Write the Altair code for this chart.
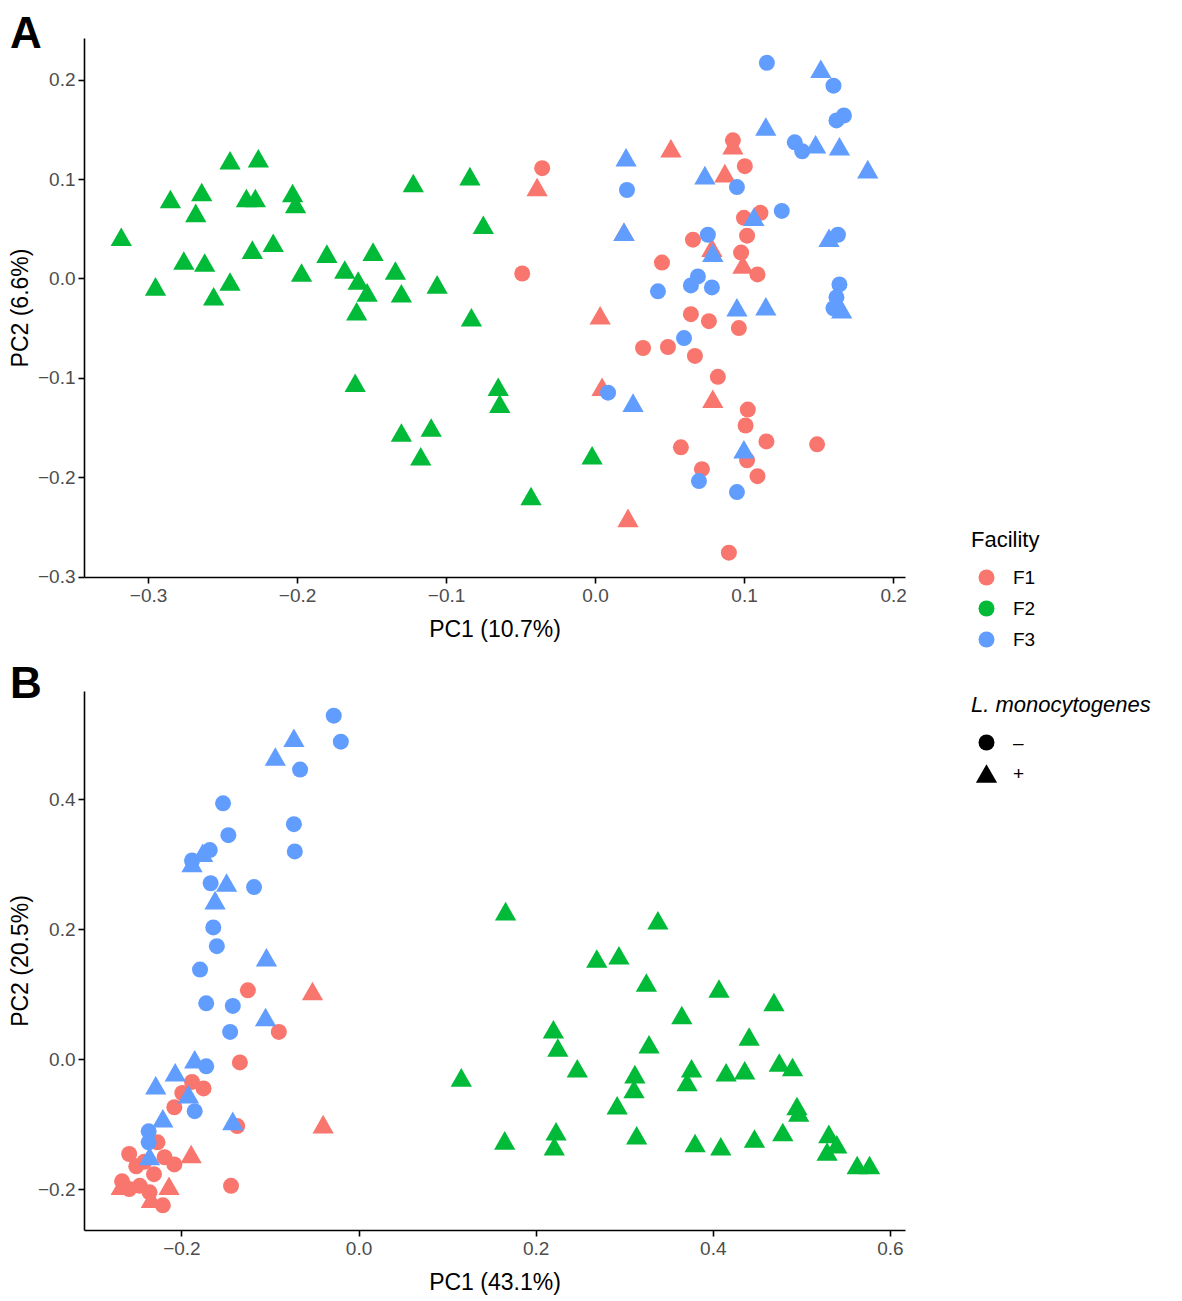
import altair as alt
import pandas as pd

# ---------------- Panel A (PC1 10.7%, PC2 6.6%) ----------------
A_F2_pos_x = [-0.318, -0.295, -0.285, -0.268, -0.264, -0.276, -0.262, -0.256, -0.245, -0.245,
              -0.226, -0.234, -0.228, -0.230, -0.216, -0.203, -0.201, -0.197, -0.180, -0.168,
              -0.149, -0.159, -0.153, -0.160, -0.134, -0.130, -0.106, -0.122, -0.084, -0.075,
              -0.083, -0.161, -0.130, -0.110, -0.117, -0.065, -0.064, -0.002, -0.043]
A_F2_pos_y = [0.042, -0.008, 0.080, 0.066, 0.087, 0.018, 0.016, -0.018, -0.003, 0.119,
              0.121, 0.081, 0.081, 0.029, 0.036, 0.086, 0.075, 0.006, 0.025, 0.009,
              0.027, -0.002, -0.014, -0.033, 0.008, -0.015, -0.006, 0.096, 0.103, 0.054,
              -0.039, -0.105, -0.155, -0.150, -0.179, -0.109, -0.126, -0.178, -0.219]

A_F1_neg_x = [0.0925, -0.0355, 0.1005, 0.0999, 0.111, 0.0657, 0.102, 0.098, 0.109, 0.0449,
              -0.0489, 0.0643, 0.0764, 0.0965, 0.0322, 0.0489, 0.067, 0.0824, 0.1025, 0.101,
              0.115, 0.149, 0.0576, 0.102, 0.0717, 0.109, 0.0898]
A_F1_neg_y = [0.139, 0.111, 0.113, 0.061, 0.066, 0.039, 0.043, 0.026, 0.004, 0.016,
              0.005, -0.036, -0.043, -0.050, -0.070, -0.069, -0.078, -0.099, -0.132, -0.148,
              -0.164, -0.167, -0.170, -0.183, -0.192, -0.199, -0.276]

A_F1_pos_x = [0.0925, 0.0509, -0.0389, 0.0871, 0.0194, 0.0784, 0.0992, 0.0034, 0.0047, 0.079, 0.0221]
A_F1_pos_y = [0.134, 0.131, 0.092, 0.106, 0.047, 0.031, 0.014, -0.037, -0.109, -0.121, -0.241]

A_F3_neg_x = [0.1153, 0.160, 0.167, 0.162, 0.134, 0.139, 0.0214, 0.0952, 0.1253, 0.163,
              0.0757, 0.069, 0.0643, 0.0784, 0.0422, 0.164, 0.162, 0.160, 0.0597, 0.0087,
              0.0697, 0.0952]
A_F3_neg_y = [0.217, 0.194, 0.164, 0.159, 0.137, 0.128, 0.089, 0.092, 0.068, 0.044,
              0.044, 0.002, -0.007, -0.009, -0.013, -0.006, -0.019, -0.030, -0.060, -0.115,
              -0.204, -0.215]

A_F3_pos_x = [0.1515, 0.1146, 0.148, 0.164, 0.183, 0.0208, 0.0737, 0.1066, 0.157, 0.0194,
              0.079, 0.1655, 0.0952, 0.1146, 0.0255, 0.0999]
A_F3_pos_y = [0.211, 0.153, 0.135, 0.133, 0.110, 0.122, 0.104, 0.062, 0.041, 0.047,
              0.026, -0.031, -0.029, -0.028, -0.125, -0.172]

# ---------------- Panel B (PC1 43.1%, PC2 20.5%) ----------------
B_F2_pos_x = [0.166, 0.338, 0.269, 0.294, 0.325, 0.407, 0.469, 0.365, 0.220, 0.225,
              0.328, 0.441, 0.116, 0.247, 0.312, 0.311, 0.376, 0.371, 0.415, 0.436,
              0.475, 0.490, 0.292, 0.495, 0.497, 0.165, 0.223, 0.221, 0.314, 0.380,
              0.409, 0.447, 0.479, 0.531, 0.540, 0.529, 0.563, 0.577]
B_F2_pos_y = [0.228, 0.214, 0.155, 0.160, 0.118, 0.109, 0.088, 0.068, 0.046, 0.018,
              0.023, 0.035, -0.028, -0.014, -0.023, -0.046, -0.014, -0.035, -0.020, -0.017,
              -0.005, -0.012, -0.071, -0.072, -0.082, -0.125, -0.111, -0.134, -0.117, -0.129,
              -0.134, -0.122, -0.112, -0.115, -0.131, -0.142, -0.163, -0.163]

B_F3_neg_x = [-0.028, -0.020, -0.066, -0.153, -0.073, -0.147, -0.072, -0.168, -0.188, -0.167,
              -0.118, -0.164, -0.160, -0.179, -0.172, -0.142, -0.145, -0.172, -0.185, -0.237,
              -0.237]
B_F3_neg_y = [0.529, 0.489, 0.446, 0.394, 0.362, 0.345, 0.320, 0.322, 0.306, 0.271,
              0.265, 0.203, 0.174, 0.138, 0.086, 0.082, 0.042, -0.011, -0.080, -0.111,
              -0.128]

B_F3_pos_x = [-0.073, -0.094, -0.176, -0.188, -0.149, -0.162, -0.104, -0.105, -0.185, -0.207,
              -0.229, -0.192, -0.221, -0.142, -0.236]
B_F3_pos_y = [0.495, 0.466, 0.318, 0.302, 0.272, 0.245, 0.157, 0.065, 0.000, -0.020,
              -0.040, -0.054, -0.091, -0.095, -0.149]

B_F1_neg_x = [-0.125, -0.090, -0.134, -0.188, -0.175, -0.199, -0.208, -0.137, -0.227, -0.259,
              -0.219, -0.208, -0.251, -0.231, -0.267, -0.247, -0.259, -0.236, -0.221, -0.144,
              -0.242]
B_F1_neg_y = [0.106, 0.042, -0.005, -0.035, -0.045, -0.052, -0.074, -0.103, -0.128, -0.146,
              -0.151, -0.162, -0.165, -0.177, -0.188, -0.195, -0.200, -0.205, -0.225, -0.195,
              -0.158]

B_F1_pos_x = [-0.052, -0.040, -0.189, -0.214, -0.234, -0.268]
B_F1_pos_y = [0.105, -0.100, -0.146, -0.195, -0.215, -0.195]

FACILITIES = ["F1", "F2", "F3"]
FAC_COLORS = ["#F8766D", "#00BA38", "#619CFF"]
LM_LEVELS = ["\u2013", "+"]
TRIANGLE = "M0,-1.16L1.33,1.16L-1.33,1.16Z"

FONT = "Liberation Sans"


def build(groups):
    rows = []
    for fac, lm, xs, ys in groups:
        for x, y in zip(xs, ys):
            rows.append({"PC1": x, "PC2": y, "Facility": fac, "Lm": lm})
    return pd.DataFrame(rows)


dfA = build([
    ("F2", "+", A_F2_pos_x, A_F2_pos_y),
    ("F1", "\u2013", A_F1_neg_x, A_F1_neg_y),
    ("F1", "+", A_F1_pos_x, A_F1_pos_y),
    ("F3", "\u2013", A_F3_neg_x, A_F3_neg_y),
    ("F3", "+", A_F3_pos_x, A_F3_pos_y),
])
dfB = build([
    ("F1", "\u2013", B_F1_neg_x, B_F1_neg_y),
    ("F1", "+", B_F1_pos_x, B_F1_pos_y),
    ("F2", "+", B_F2_pos_x, B_F2_pos_y),
    ("F3", "\u2013", B_F3_neg_x, B_F3_neg_y),
    ("F3", "+", B_F3_pos_x, B_F3_pos_y),
])

color_scale = alt.Scale(domain=FACILITIES, range=FAC_COLORS)
shape_scale = alt.Scale(domain=LM_LEVELS, range=["circle", TRIANGLE])

color_legend = alt.Legend(
    title="Facility", orient="none", legendX=887, legendY=492,
    symbolType="circle", symbolSize=256, symbolStrokeWidth=0,
    titleFontSize=22, titleFontWeight="normal", titleColor="black", titleFont=FONT,
    labelFontSize=19, labelColor="black", labelFont=FONT,
    titlePadding=16, rowPadding=11, labelOffset=17, symbolOffset=6, padding=0,
)
shape_legend = alt.Legend(
    title="L. monocytogenes", orient="none", legendX=887, legendY=657,
    symbolSize=256, symbolFillColor="black", symbolStrokeColor="black", symbolStrokeWidth=0,
    titleFontSize=22, titleFontWeight="normal", titleFontStyle="italic", titleColor="black",
    titleFont=FONT, labelFontSize=19, labelColor="black", labelFont=FONT,
    titlePadding=16, rowPadding=11, labelOffset=17, symbolOffset=6, padding=0,
)


def panel(df, xdom, xvals, xtitle, ydom, yvals, ytitle, label, label_y):
    pts = alt.Chart(df).mark_point(filled=True, size=256, opacity=1, strokeWidth=0).encode(
        x=alt.X("PC1:Q", scale=alt.Scale(domain=xdom, nice=False, zero=False),
                axis=alt.Axis(values=xvals, format=".1f", title=xtitle)),
        y=alt.Y("PC2:Q", scale=alt.Scale(domain=ydom, nice=False, zero=False),
                axis=alt.Axis(values=yvals, format=".1f", title=ytitle)),
        color=alt.Color("Facility:N", scale=color_scale, legend=color_legend),
        shape=alt.Shape("Lm:N", scale=shape_scale, legend=shape_legend),
    )
    lab = alt.Chart(pd.DataFrame({"label": [label]})).mark_text(
        align="left", baseline="alphabetic", fontSize=44, fontWeight="bold", font=FONT, color="black"
    ).encode(x=alt.value(-74), y=alt.value(label_y), text="label:N")
    return alt.layer(pts, lab).properties(width=821, height=539)


pA = panel(dfA, [-0.343, 0.208], [-0.3, -0.2, -0.1, 0.0, 0.1, 0.2], "PC1 (10.7%)",
           [-0.3005, 0.242], [-0.3, -0.2, -0.1, 0.0, 0.1, 0.2], "PC2 (6.6%)", "A", 10)
pB = panel(dfB, [-0.310, 0.617], [-0.2, 0.0, 0.2, 0.4, 0.6], "PC1 (43.1%)",
           [-0.263, 0.567], [-0.2, 0.0, 0.2, 0.4], "PC2 (20.5%)", "B", 7)

chart = alt.vconcat(pA, pB, spacing=114, bounds="flush").resolve_scale(
    x="independent", y="independent"
).properties(
    padding={"left": 0, "top": 4, "right": 0, "bottom": 0}
).configure_view(
    stroke="transparent"
).configure_axis(
    grid=False, domainColor="black", domainWidth=1.6, tickColor="black", tickWidth=1.6,
    tickSize=6, labelColor="#4D4D4D", labelFontSize=19, labelFont=FONT, labelPadding=3,
    titleFontSize=23, titleFontWeight="normal", titleColor="black", titleFont=FONT,
).configure_axisX(titlePadding=13).configure_axisY(titlePadding=5)

chart.save("out.html", embed_options={"renderer": "svg", "actions": False})
